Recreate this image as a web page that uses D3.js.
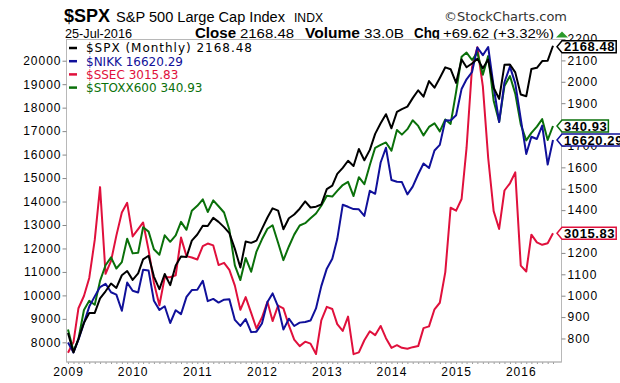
<!DOCTYPE html>
<html><head><meta charset="utf-8">
<script src="https://cdn.jsdelivr.net/npm/d3@7"></script>
<style>
body{margin:0;background:#fff;}
svg{display:block;font-family:Arial,"Liberation Sans",sans-serif;}
</style></head><body>
<svg id="c" width="620" height="383"></svg>
<script>
// ---- data (monthly closes, Jan 2009 .. Jul 2016) ----
const firstMonth = [2009, 0];
const lastMonth = [2016, 6];
const spx = [825.88,735.09,797.87,872.81,919.14,919.32,987.48,1020.62,1057.08,1036.19,1095.63,1115.10,
 1073.87,1104.49,1169.43,1186.69,1089.41,1030.71,1101.60,1049.33,1141.20,1183.26,1180.55,1257.64,
 1286.12,1327.22,1325.83,1363.61,1345.20,1320.64,1292.28,1218.89,1131.42,1253.30,1246.96,1257.60,
 1312.41,1365.68,1408.47,1397.91,1310.33,1362.16,1379.32,1406.58,1440.67,1412.16,1416.18,1426.19,
 1498.11,1514.68,1569.19,1597.57,1630.74,1606.28,1685.73,1632.97,1681.55,1756.54,1805.81,1848.36,
 1782.59,1859.45,1872.34,1883.95,1923.57,1960.23,1930.67,2003.37,1972.29,2018.05,2067.56,2058.90,
 1994.99,2104.50,2067.89,2085.51,2107.39,2063.11,2103.84,1972.18,1920.03,2079.36,2080.41,2043.94,
 1940.24,1932.23,2059.74,2065.30,2096.95,2098.86,2168.48];
const nikk = [7994,7568,8110,8828,9523,9958,10357,10493,10133,10035,9346,10546,
 10198,10126,11090,11057,9769,9383,9537,8824,9369,9202,9937,10229,
 10238,10624,9755,9850,9694,9816,9833,8955,8700,8988,8435,8455,
 8803,9723,10084,9521,8543,9007,8695,8840,8870,8928,9446,10395,
 11139,11559,12398,13861,13775,13677,13668,13389,14456,14328,15662,16291,
 14915,14841,14828,14304,14632,15162,15621,15425,16174,16414,17460,17451,
 17674,18798,19207,19520,20563,20236,20585,18890,17388,19083,19747,19034,
 17518,16027,16759,16666,17235,15576,16620.29];
const ssec = [1991,2083,2373,2478,2633,2959,3412,2668,2779,2996,3195,3277,
 2989,3052,3109,2871,2592,2398,2638,2639,2656,2979,2820,2808,
 2791,2905,2928,2912,2743,2762,2702,2567,2359,2468,2333,2199,
 2293,2428,2263,2396,2372,2225,2104,2048,2086,2069,1980,2269,
 2385,2366,2237,2178,2301,1979,1994,2098,2175,2142,2221,2116,
 2033,2056,2033,2026,2039,2048,2202,2217,2364,2420,2683,3235,
 3210,3310,3748,4442,4612,4277,3664,3206,3053,3383,3445,3539,
 2738,2688,3004,2938,2917,2930,3015.83];
const stoxx = [184.6,167.9,177.3,199.6,206.7,203.6,222.0,234.0,240.0,231.5,236.4,254.4,
 243.1,243.5,263.2,259.8,246.3,242.0,257.0,252.0,257.0,267.3,261.2,275.8,
 279.6,284.6,274.9,283.8,279.3,274.5,261.2,233.9,222.6,239.6,229.0,244.5,
 253.9,262.0,264.7,251.3,237.9,248.4,257.5,264.5,266.3,270.0,273.7,279.7,
 287.3,286.7,291.1,295.6,298.0,287.1,301.6,296.2,311.0,324.2,326.4,328.3,
 322.0,337.8,334.3,338.5,345.3,341.0,333.7,340.2,343.0,336.8,345.9,342.5,
 367.2,394.1,397.3,391.6,397.3,380.3,394.6,360.4,344.1,371.7,379.3,365.8,
 342.2,329.9,335.6,340.5,346.2,330.2,340.93];
const leftTicks = [8000,9000,10000,11000,12000,13000,14000,15000,16000,17000,18000,19000,20000];
const rightTicks = [800,900,1000,1100,1200,1300,1400,1500,1600,1700,1800,1900,2000,2100,2200];
const yearLabels = [2009,2010,2011,2012,2013,2014,2015,2016];
const seriesNames = ["$SPX (Monthly) 2168.48","$NIKK 16620.29","$SSEC 3015.83","$STOXX600 340.93"];
const lastValues = ["2168.48","16620.29","3015.83","340.93"];

// ---- layout ----
const L = 66.5, R = 561.5, T = 39.5, B = 362;
const svg = d3.select("#c");
const months = d3.timeMonth.range(new Date(firstMonth[0], firstMonth[1], 1), new Date(lastMonth[0], lastMonth[1] + 1, 1));
const x = d3.scaleTime().domain([months[0], months[months.length - 1]]).range([68, 553]);
const yRight = d3.scaleLinear().domain([690, 2200]).range([B, 39]);
const yLeft = d3.scaleLinear().domain([7162, 20925]).range([B, 39]);
const ySsec = d3.scaleLinear().domain([1911.6, 4682.9]).range([B, 39]);
const yStoxx = d3.scaleLinear().domain([159.67, 407.75]).range([B, 39]);

const colors = {spx: "#000000", nikk: "#10109a", ssec: "#e0103c", stoxx: "#0a700a"};

// header
const hdr = svg.append("g").attr("fill", "#000");
hdr.append("text").attr("x", 64).attr("y", 22).attr("font-size", 18).attr("font-weight", "bold").text("$SPX");
hdr.append("text").attr("x", 116).attr("y", 22).attr("font-size", 14).attr("textLength", 169).attr("lengthAdjust", "spacingAndGlyphs").text("S&P 500 Large Cap Index");
hdr.append("text").attr("x", 294).attr("y", 22).attr("font-size", 12).attr("textLength", 29).attr("lengthAdjust", "spacingAndGlyphs").text("INDX");
hdr.append("text").attr("x", 444).attr("y", 21).attr("font-size", 13).attr("fill", "#333").attr("font-family", "'DejaVu Sans',Verdana,sans-serif").attr("textLength", 123).attr("lengthAdjust", "spacingAndGlyphs").text("\u00A9StockCharts.com");
const line2 = [
  {t: "25-Jul-2016", x: 65, w: 67, b: false},
  {t: "Close", x: 195, w: 41, b: true},
  {t: "2168.48", x: 240, w: 54, b: false},
  {t: "Volume", x: 305, w: 55, b: true},
  {t: "33.0B", x: 364, w: 40, b: false},
  {t: "Chg", x: 414, w: 26, b: true},
  {t: "+69.62 (+3.32%)", x: 443, w: 111, b: false}
];
line2.forEach(d => {
  hdr.append("text").attr("x", d.x).attr("y", 37.5).attr("font-size", d.b ? 14 : 13)
    .attr("font-weight", d.b ? "bold" : "normal").attr("textLength", d.w).attr("lengthAdjust", "spacingAndGlyphs").text(d.t);
});
hdr.append("path").attr("d", "M556,37.5L568,37.5L562,31.5Z").attr("fill", "#2a9a2a");

// frame
svg.append("rect").attr("x", L).attr("y", T).attr("width", R - L).attr("height", B - T)
  .attr("fill", "#fff").attr("stroke", "#b8b8b8").attr("stroke-width", 1);

// axes
function styleAxis(g) {
  g.select(".domain").remove();
  g.selectAll(".tick line").attr("stroke", "#888");
  g.selectAll(".tick text").attr("fill", "#000").attr("font-size", 12).attr("letter-spacing", "1px")
    .attr("font-family", "Arial,'Liberation Sans',sans-serif");
}
svg.append("g").attr("transform", `translate(${L},0)`)
  .call(d3.axisLeft(yLeft).tickValues(leftTicks).tickSize(4).tickPadding(1).tickFormat(d3.format("d")))
  .call(styleAxis);
svg.append("g").attr("transform", `translate(${R},0)`)
  .call(d3.axisRight(yRight).tickValues(rightTicks).tickSize(4).tickPadding(2).tickFormat(d3.format("d")))
  .call(styleAxis);
svg.append("g").attr("transform", `translate(0,${B})`)
  .call(d3.axisBottom(x).ticks(d3.timeMonth.every(1)).tickSize(2).tickFormat(""))
  .call(g => { g.select(".domain").remove(); g.selectAll(".tick line").attr("stroke", "#999"); });
svg.append("g").attr("transform", `translate(0,${B})`)
  .call(d3.axisBottom(x).tickValues(yearLabels.map(y => new Date(y, 0, 1))).tickSize(0).tickPadding(5).tickFormat(d3.timeFormat("%Y")))
  .call(styleAxis);
svg.append("line").attr("x1", L).attr("x2", R).attr("y1", B).attr("y2", B).attr("stroke", "#b8b8b8");

// lines
svg.append("clipPath").attr("id", "clip").append("rect").attr("x", L).attr("y", T).attr("width", R - L).attr("height", B - T);
const plot = svg.append("g").attr("clip-path", "url(#clip)");
const series = [
  {key: "ssec", vals: ssec, y: ySsec},
  {key: "stoxx", vals: stoxx, y: yStoxx},
  {key: "nikk", vals: nikk, y: yLeft},
  {key: "spx", vals: spx, y: yRight}
];
series.forEach(s => {
  const line = d3.line().x((d, i) => x(months[i])).y(d => s.y(d));
  plot.append("path").datum(s.vals).attr("d", line).attr("fill", "none")
    .attr("stroke", colors[s.key]).attr("stroke-width", 2).attr("stroke-linejoin", "round");
});

// legend
const legKeys = ["spx", "nikk", "ssec", "stoxx"];
const legWidths = [166, null, null, null];
const leg = svg.append("g");
legKeys.forEach((k, i) => {
  const yy = 48 + i * 13.2;
  leg.append("line").attr("x1", 69).attr("x2", 77).attr("y1", yy).attr("y2", yy).attr("stroke", colors[k]).attr("stroke-width", 2.5);
  const t = leg.append("text").attr("x", 86).attr("y", yy + 4.3).attr("font-size", 12)
    .attr("font-family", "'DejaVu Sans',Verdana,sans-serif").attr("fill", colors[k]).text(seriesNames[i]);
  if (legWidths[i]) t.attr("textLength", legWidths[i]).attr("lengthAdjust", "spacing");
});

// price labels
const lab = [
  {k: "spx", y: yRight(spx[spx.length - 1]) + 1, t: lastValues[0]},
  {k: "stoxx", y: yStoxx(stoxx[stoxx.length - 1]), t: lastValues[3]},
  {k: "nikk", y: yLeft(nikk[nikk.length - 1]), t: lastValues[1]},
  {k: "ssec", y: ySsec(ssec[ssec.length - 1]), t: lastValues[2]}
];
lab.forEach(d => {
  const g = svg.append("g");
  const tx = g.append("text").attr("x", 564).attr("y", d.y + 4.6).attr("font-size", 13).attr("font-weight", "bold")
    .attr("letter-spacing", "0.6px").attr("fill", "#000").text(d.t);
  const w = tx.node().getComputedTextLength() + 3;
  const h = 12;
  g.insert("path", "text").attr("d", `M557,${d.y}L562,${d.y - h / 2}L${562 + w},${d.y - h / 2}L${562 + w},${d.y + h / 2}L562,${d.y + h / 2}Z`)
    .attr("fill", "#fff").attr("stroke", colors[d.k]).attr("stroke-width", 1.5);
});
</script>
</body></html>
